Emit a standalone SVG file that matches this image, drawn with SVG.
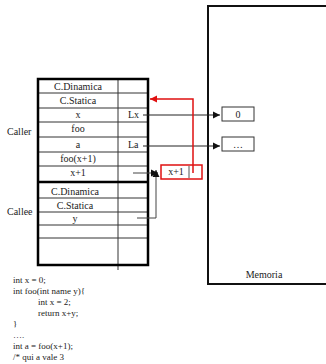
<svg xmlns="http://www.w3.org/2000/svg" width="326" height="364" viewBox="0 0 326 364">
<style>
text{font-family:"Liberation Serif","Times New Roman",serif;font-size:10px;fill:#222}
.c{text-anchor:middle}
.code{font-size:9px}
.thin{stroke:#333;stroke-width:1;fill:none}
.thick{stroke:#000;stroke-width:2.5;fill:none}
.ln{stroke:#222;stroke-width:1;fill:none}
.red{stroke:#e01010;stroke-width:1.5;fill:none}
</style>
<defs>
<marker id="ab" markerWidth="8" markerHeight="8" refX="7" refY="4" orient="auto" markerUnits="userSpaceOnUse"><path d="M0,0.5 L7,4 L0,7.5 Z" fill="#111"/></marker>
<marker id="ar" markerWidth="8" markerHeight="8" refX="7" refY="4" orient="auto" markerUnits="userSpaceOnUse"><path d="M0,0.5 L7,4 L0,7.5 Z" fill="#e01010"/></marker>
</defs>

<g id="memoria">
<path d="M326,6 H208 V284 H326" stroke="#111" stroke-width="2" fill="none"/>
<text x="264" y="278" class="c">Memoria</text>
</g>

<g id="mem0">
<rect x="222" y="107" width="32" height="14" class="thin"/>
<text x="238" y="117.5" class="c">0</text>
</g>
<g id="memdots">
<rect x="222" y="137" width="32" height="14" class="thin"/>
<text x="238" y="147.5" class="c">…</text>
</g>

<g id="caller">
<text x="7" y="135">Caller</text>
<line x1="38" y1="93" x2="148" y2="93" class="thin"/>
<line x1="38" y1="108" x2="148" y2="108" class="thin"/>
<line x1="38" y1="122" x2="148" y2="122" class="thin"/>
<line x1="38" y1="137" x2="148" y2="137" class="thin"/>
<line x1="38" y1="152" x2="148" y2="152" class="thin"/>
<line x1="38" y1="166" x2="148" y2="166" class="thin"/>
<text x="78" y="90" class="c">C.Dinamica</text>
<text x="78" y="104" class="c">C.Statica</text>
<text x="78" y="118" class="c">x</text>
<text x="78" y="132" class="c">foo</text>
<text x="78" y="148" class="c">a</text>
<text x="78" y="162" class="c">foo(x+1)</text>
<text x="78" y="176" class="c">x+1</text>
<text x="128" y="118">Lx</text>
<text x="128" y="148">La</text>
</g>

<g id="callee">
<text x="7" y="215">Callee</text>
<line x1="38" y1="198" x2="148" y2="198" class="thin"/>
<line x1="38" y1="212" x2="148" y2="212" class="thin"/>
<line x1="38" y1="225" x2="148" y2="225" class="thin"/>
<line x1="38" y1="238" x2="148" y2="238" class="thin"/>
<text x="75" y="195" class="c">C.Dinamica</text>
<text x="75" y="209" class="c">C.Statica</text>
<text x="75" y="222" class="c">y</text>
</g>

<g id="stack">
<line x1="118" y1="79" x2="118" y2="270" class="thin"/>
<rect x="38" y="79" width="110" height="186" class="thick"/>
<line x1="38" y1="182" x2="148" y2="182" class="thick"/>
</g>

<g id="redbox">
<rect x="161" y="165" width="41" height="14" class="red"/>
<line x1="189" y1="166" x2="189" y2="178" stroke="#555" stroke-width="1"/>
<text x="176" y="175" class="c">x+1</text>
</g>

<g id="connectors">
<line x1="143" y1="115" x2="220" y2="115" class="ln" marker-end="url(#ab)"/>
<line x1="143" y1="146" x2="220" y2="146" class="ln" marker-end="url(#ab)"/>
<polyline points="193,173 193,99 150,99" class="red" marker-end="url(#ar)"/>
<line x1="133" y1="173" x2="158" y2="173" stroke="#444" stroke-width="1" marker-end="url(#ab)"/>
<polyline points="137,218 156,218 156,170" stroke="#444" stroke-width="1" fill="none" marker-end="url(#ab)"/>
</g>

<g id="code">
<text x="13" y="283" class="code">int x = 0;</text>
<text x="13" y="294" class="code">int foo(int name y){</text>
<text x="38" y="305" class="code">int x = 2;</text>
<text x="38" y="316" class="code">return x+y;</text>
<text x="13" y="327" class="code">}</text>
<text x="13" y="338" class="code">….</text>
<text x="13" y="349" class="code">int a = foo(x+1);</text>
<text x="13" y="360" class="code">/* qui a vale 3</text>
</g>
</svg>
